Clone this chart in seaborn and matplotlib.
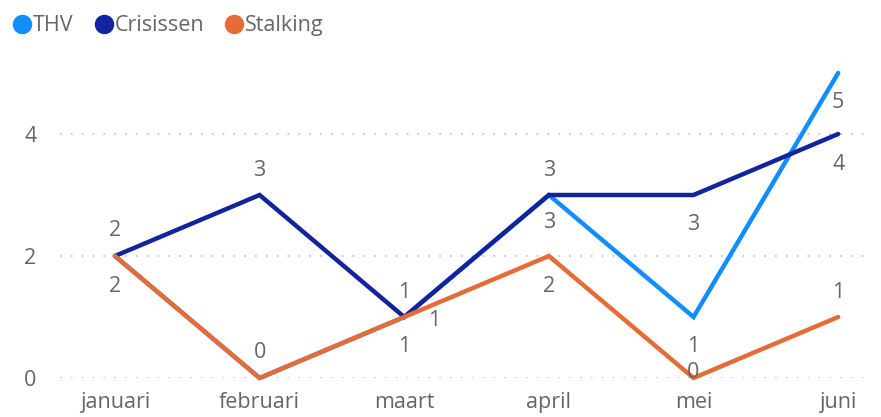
import matplotlib
matplotlib.use("Agg")
import matplotlib.pyplot as plt
import seaborn as sns
import pandas as pd
from matplotlib.lines import Line2D

months = ["januari", "februari", "maart", "april", "mei", "juni"]
series = ["THV", "Crisissen", "Stalking"]
thv = [2, 0, 1, 3, 1, 5]
crisissen = [2, 3, 1, 3, 3, 4]
stalking = [2, 0, 1, 2, 0, 1]
colors = {"THV": "#118DFF", "Crisissen": "#12239E", "Stalking": "#E66C37"}

# label placement (pixel offsets dx, dy); None = hidden
label_pos = {
    "THV": [None, None, (30, -4), (0, -28), (0, -30), (0, -30)],
    "Crisissen": [(0, 25), (0, 25), (0, 25), (0, 25), (0, -30), (0, -30)],
    "Stalking": [(0, -30), (0, 25), (0, -30), (0, -30), (0, 6), (0, 25)],
}

vals = {"THV": thv, "Crisissen": crisissen, "Stalking": stalking}
rows = []
for s in series:
    for i, m in enumerate(months):
        rows.append({"maand": i, "serie": s, "waarde": vals[s][i]})
df = pd.DataFrame(rows)

sns.set_theme(style="white")
plt.rcParams["font.family"] = ["Open Sans", "DejaVu Sans"]

fig = plt.figure(figsize=(8.81, 4.17), dpi=100)
ax = fig.add_axes([60 / 881, (417 - 378) / 417, (870 - 60) / 881, (378 - 73) / 417])

sns.lineplot(data=df, x="maand", y="waarde", hue="serie", hue_order=series,
             palette=colors, linewidth=3.2, ax=ax, legend=False, clip_on=False,
             solid_capstyle="round", solid_joinstyle="miter", estimator=None)

ax.set_xlim(-0.38, 5.22)
ax.set_ylim(0, 5)
ax.set_yticks([0, 2, 4])
ax.set_xticks(range(len(months)))
ax.set_xticklabels(months)
ax.set_xlabel("")
ax.set_ylabel("")
for sp in ax.spines.values():
    sp.set_visible(False)
ax.tick_params(axis="both", length=0, labelsize=15.5, labelcolor="#666666")
ax.tick_params(axis="y", pad=17)
ax.tick_params(axis="x", pad=10)
for yv in [0, 2, 4]:
    ax.axhline(yv, color="#C8C6C4", linestyle=(0, (1, 5)), linewidth=1.3, zorder=0)

for s in series:
    for i, v in enumerate(vals[s]):
        pos = label_pos[s][i]
        if pos is None:
            continue
        ax.annotate(str(v), (i, v), xytext=pos, textcoords="offset pixels",
                    ha="center", va="center", fontsize=15.5, color="#666666",
                    annotation_clip=False)

handles = [Line2D([], [], marker="o", linestyle="", markersize=13,
                  markerfacecolor=colors[s], markeredgecolor=colors[s]) for s in series]
fig.legend(handles, series, loc="upper left", bbox_to_anchor=(-0.004, 1.0), ncol=3,
           frameon=False, fontsize=15.5, labelcolor="#666666", handletextpad=0.0,
           columnspacing=0.9, handlelength=1.0, borderaxespad=0.3)

fig.savefig("out.png", dpi=100)
